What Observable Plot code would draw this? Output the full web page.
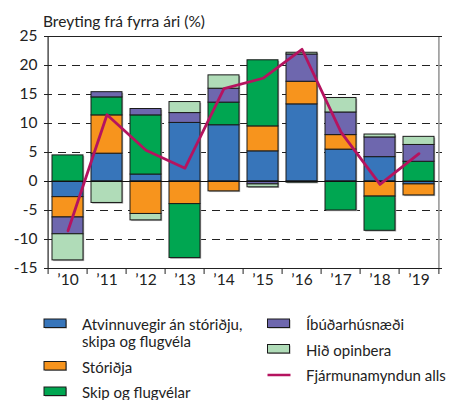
<!DOCTYPE html>
<html><head><meta charset="utf-8">
<script src="https://cdn.jsdelivr.net/npm/d3@7"></script>
<script src="https://cdn.jsdelivr.net/npm/@observablehq/plot@0.6"></script>
<style>
body{margin:0;background:#fff;}
#wrap{position:relative;width:454px;height:400px;overflow:hidden;font-family:Lato,sans-serif;color:#222;background:#fff;}
#chart{position:absolute;left:0;top:0;}
#title{position:absolute;left:43px;top:14px;font-size:15.5px;line-height:15px;white-space:nowrap;}
#legend{position:absolute;left:0;top:300px;}
</style></head><body>
<div id="wrap"><div id="chart"></div><div id="title">Breyting frá fyrra ári (%)</div><svg id="legend" width="454" height="100"></svg></div>
<script>
const years = ["’10","’11","’12","’13","’14","’15","’16","’17","’18","’19"];
const seriesNames = ["Atvinnuvegir án stóriðju, skipa og flugvéla","Stóriðja","Skip og flugvélar","Íbúðarhúsnæði","Hið opinbera"];
const seriesColors = ["#3775ba","#f7941d","#00a651","#6e67ae","#b0dcb8"];
const atvinnuvegir = [-2.7,4.8,1.2,10.1,9.7,5.2,13.3,5.5,4.2,-0.5];
const storidja = [-3.5,6.6,-5.6,-3.9,-1.7,4.3,3.9,2.5,-2.6,-1.9];
const skip = [4.5,3.1,10.2,-9.3,3.9,11.4,-0.2,-5.0,-5.9,3.4];
const ibudar = [-2.9,0.9,1.1,1.7,2.4,-0.5,4.7,3.9,3.4,2.9];
const opinbera = [-4.5,-3.7,-1.1,1.9,2.3,-0.5,0.3,2.5,0.5,1.4];
const totalName = "Fjármunamyndun alls";
const totalColor = "#b5135f";
const total = [-8.5,11.5,5.4,2.3,16.0,17.8,22.8,8.5,-0.5,4.8];
const yTicks = [-15,-10,-5,0,5,10,15,20,25];
const gridTicks = [-10,-5,5,10,15,20];

const seriesValues = [atvinnuvegir, storidja, skip, ibudar, opinbera];
const bars = [];
seriesNames.forEach((s, si) => years.forEach((yr, i) => bars.push({year: yr, series: s, value: seriesValues[si][i]})));
const totalData = years.map((yr, i) => ({year: yr, value: total[i]}));

const W = 454, H = 300, ML = 44, MR = 12, MT = 36, MB = 32;
const step = (W - ML - MR) / years.length;

const chart = Plot.plot({
  width: W, height: H, marginLeft: ML, marginRight: MR, marginTop: MT, marginBottom: MB,
  style: {fontFamily: "Lato, sans-serif", fontSize: "15px", color: "#222", background: "transparent"},
  x: {domain: years, paddingInner: 0.2, paddingOuter: 0.1, label: null, axis: null},
  y: {domain: [-15, 25], label: null, axis: null},
  color: {domain: seriesNames, range: seriesColors},
  marks: [
    Plot.ruleY(gridTicks, {stroke: "#222", strokeDasharray: "8,6", strokeWidth: 1.2}),
    Plot.barY(bars, {x: "year", y: "value", z: "series", fill: "#a8a8a8", dx: 1.2, dy: 1.2, order: seriesNames}),
    Plot.barY(bars, {x: "year", y: "value", fill: "series", stroke: "#1a1a1a", strokeWidth: 1, order: seriesNames}),
    Plot.ruleY([0], {stroke: "#111", strokeWidth: 1.2}),
    Plot.lineY(totalData, {x: "year", y: "value", stroke: totalColor, strokeWidth: 2.8}),
    Plot.ruleX([years[years.length - 1]], {dx: step / 2, stroke: "#999", strokeWidth: 1.6}),
    Plot.ruleX([years[0]], {dx: -step / 2, stroke: "#222", strokeWidth: 1.2}),
    Plot.ruleY([25, -15], {stroke: "#222", strokeWidth: 1.2}),
    Plot.axisY({ticks: yTicks, tickSize: 0, tickPadding: 7, tickFormat: d => String(d), fontSize: 15.5}),
    Plot.axisX({tickSize: 0, tickPadding: 5, fontSize: 15.5}),
    Plot.axisX({tickSize: 6, text: null, dx: -step / 2}),
    Plot.axisX({ticks: [years[years.length - 1]], tickSize: 6, text: null, dx: step / 2})
  ]
});
document.getElementById("chart").appendChild(chart);

// legend
const legendItems = [
  {lines: ["Atvinnuvegir án stóriðju,", "skipa og flugvéla"], color: seriesColors[0], col: 0, type: "rect"},
  {lines: ["Stóriðja"], color: seriesColors[1], col: 0, type: "rect"},
  {lines: ["Skip og flugvélar"], color: seriesColors[2], col: 0, type: "rect"},
  {lines: ["Íbúðarhúsnæði"], color: seriesColors[3], col: 1, type: "rect"},
  {lines: ["Hið opinbera"], color: seriesColors[4], col: 1, type: "rect"},
  {lines: [totalName], color: totalColor, col: 1, type: "line"}
];
const lg = d3.select("#legend");
const colX = [44, 267.5], textX = [82, 306], rowH = 25.5, wrapH = 17, firstBase = 30;
const colY = [firstBase, firstBase];
legendItems.forEach(it => {
  const b = colY[it.col];
  const x = colX[it.col];
  if (it.type === "rect") {
    lg.append("rect").attr("x", x + 1).attr("y", b - 10).attr("width", 22).attr("height", 8.5).attr("fill", "#aaa");
    lg.append("rect").attr("x", x).attr("y", b - 11).attr("width", 22).attr("height", 8.5)
      .attr("fill", it.color).attr("stroke", "#1a1a1a").attr("stroke-width", 1);
  } else {
    lg.append("line").attr("x1", x).attr("x2", x + 23).attr("y1", b - 6).attr("y2", b - 6)
      .attr("stroke", it.color).attr("stroke-width", 2.5);
  }
  it.lines.forEach((t, k) => {
    lg.append("text").attr("x", textX[it.col]).attr("y", b + k * wrapH)
      .attr("font-family", "Lato, sans-serif").attr("font-size", 15).attr("fill", "#222").text(t);
  });
  colY[it.col] = b + (it.lines.length - 1) * wrapH + rowH;
});
</script>
</body></html>
